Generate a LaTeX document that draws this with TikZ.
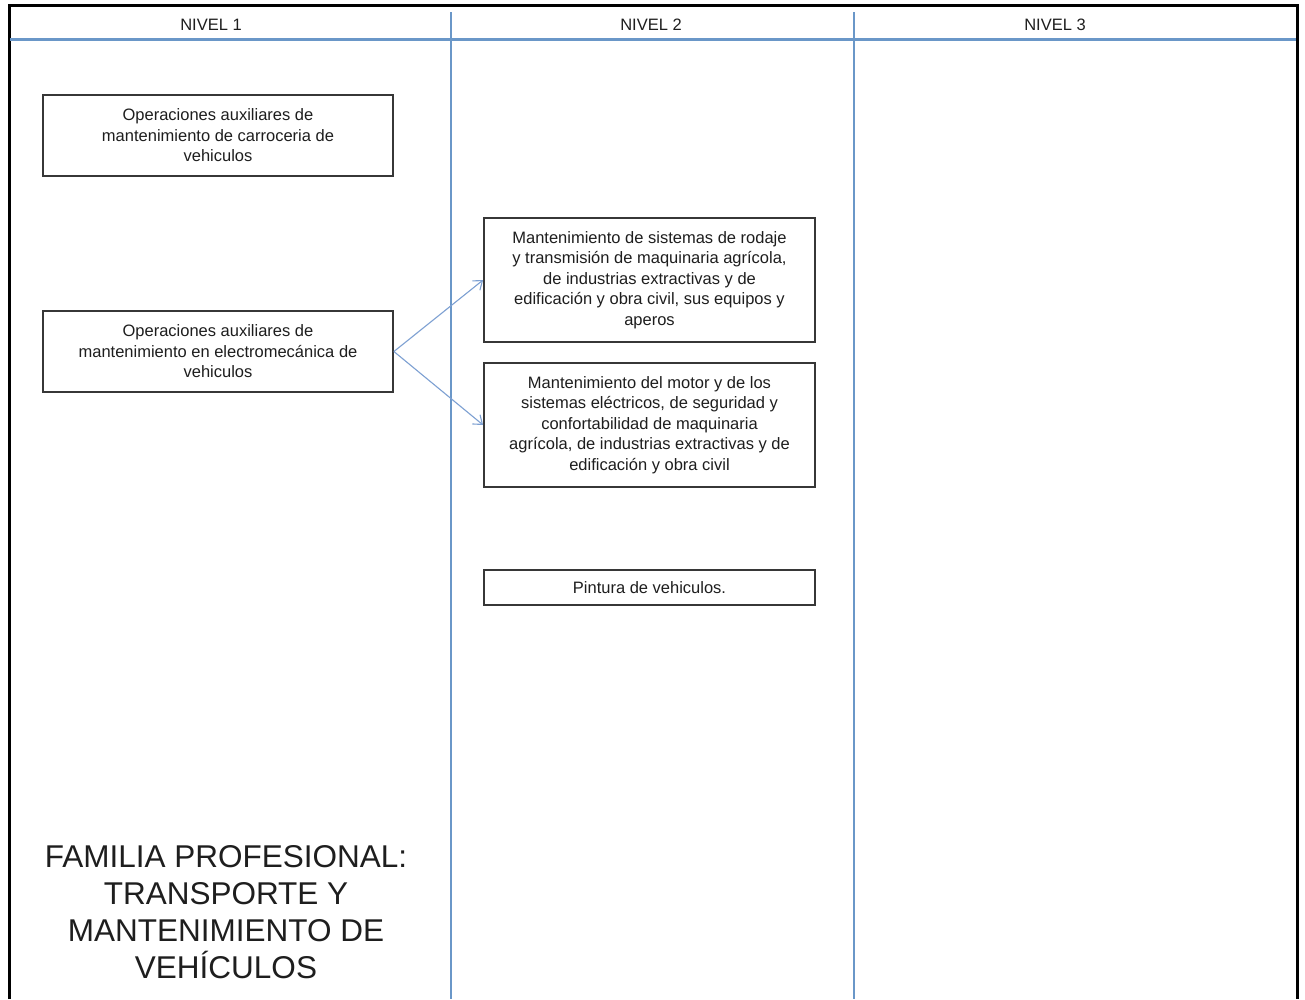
\documentclass[tikz,border=0pt]{standalone}
\usepackage{fontspec}
\setmainfont{Liberation Sans}
\usetikzlibrary{arrows.meta}
\definecolor{laneblue}{RGB}{106,151,200}
\definecolor{arrowblue}{RGB}{125,160,210}
\definecolor{boxgray}{RGB}{55,55,55}
\definecolor{txtgray}{RGB}{30,30,30}
\tikzset{
  lanebox/.style={draw=boxgray, line width=1.8pt, fill=white, align=center, inner sep=0pt,
    text=txtgray, font=\fontsize{16.5}{20.5}\selectfont},
  headlbl/.style={font=\fontsize{16.5}{18}\selectfont, text=txtgray},
  flow/.style={draw=arrowblue, line width=1.1pt, -{Straight Barb[length=8pt,width=12pt]}},
  lane/.style={draw=laneblue, line width=1.3pt},
}
\begin{document}
\begin{tikzpicture}[x=1pt,y=-1pt]
\useasboundingbox (0,0) rectangle (1305,999);
\fill[white] (0,0) rectangle (1305,999);
% outer frame
\draw[black, line width=3pt] (9,999) -- (9,5) -- (1297,5) -- (1297,999);
% header line and lane dividers
\draw[lane, line width=3pt] (10,39) -- (1296,39);
\draw[lane] (451,12) -- (451,999);
\draw[lane] (854,12) -- (854,999);
% headers
\node[headlbl] (h1) at (211,25) {NIVEL 1};
\node[headlbl] (h2) at (651,25) {NIVEL 2};
\node[headlbl] (h3) at (1055,25) {NIVEL 3};
% level 1 boxes
\node[lanebox, minimum width=350pt, minimum height=81pt] (a) at (218,135.5)
  {Operaciones auxiliares de\\mantenimiento de carroceria de\\vehiculos};
\node[lanebox, minimum width=350pt, minimum height=81pt] (b) at (218,351.5)
  {Operaciones auxiliares de\\mantenimiento en electromecánica de\\vehiculos};
% level 2 boxes
\node[lanebox, minimum width=331pt, minimum height=124pt] (c) at (649.5,280)
  {Mantenimiento de sistemas de rodaje\\y transmisión de maquinaria agrícola,\\de industrias extractivas y de\\edificación y obra civil, sus equipos y\\aperos};
\node[lanebox, minimum width=331pt, minimum height=124pt] (d) at (649.5,425)
  {Mantenimiento del motor y de los\\sistemas eléctricos, de seguridad y\\confortabilidad de maquinaria\\agrícola, de industrias extractivas y de\\edificación y obra civil};
\node[lanebox, minimum width=331pt, minimum height=35pt] (e) at (649.5,587.5)
  {Pintura de vehiculos.};
% connectors
\draw[flow] (b.east) -- (c.west);
\draw[flow] (b.east) -- (d.west);
% title
\node[align=center, text=txtgray, font=\fontsize{31.5}{37}\selectfont] (t) at (226,912)
  {FAMILIA PROFESIONAL:\\TRANSPORTE Y\\MANTENIMIENTO DE\\VEHÍCULOS};
\end{tikzpicture}
\end{document}
